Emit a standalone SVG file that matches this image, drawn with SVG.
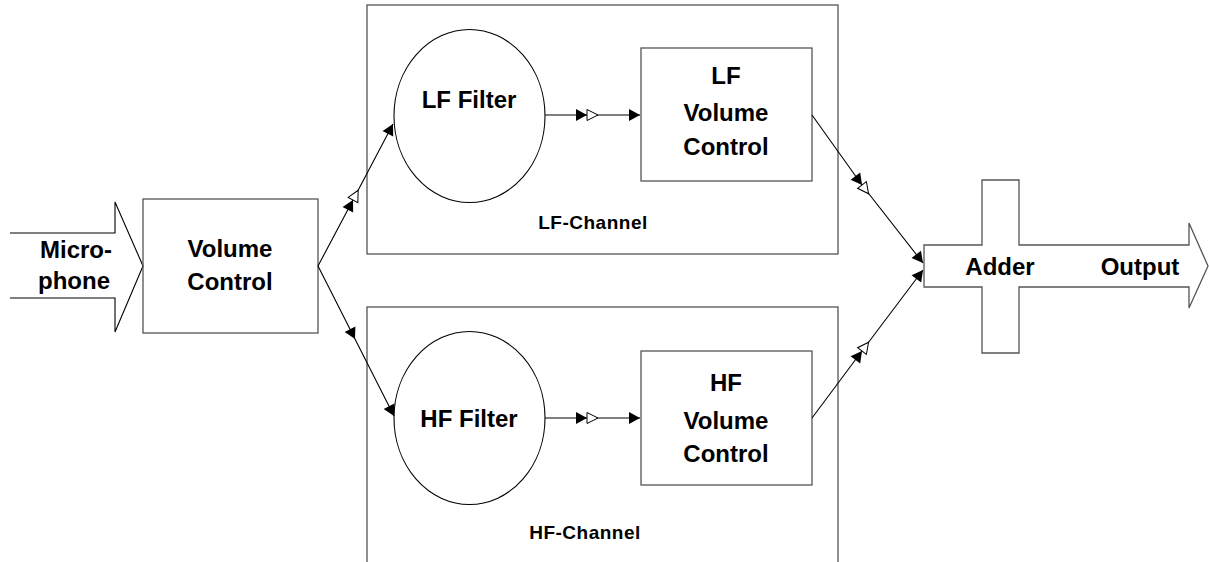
<svg xmlns="http://www.w3.org/2000/svg" width="1209" height="562" viewBox="0 0 1209 562">
<style>
.box{fill:none;stroke:#555;stroke-width:1.3}
.shape{fill:none;stroke:#000;stroke-width:1.1}
.t{font-family:"Liberation Sans",Arial,sans-serif;font-weight:bold;font-size:24px;fill:#000;text-anchor:middle}
.s{font-family:"Liberation Sans",Arial,sans-serif;font-weight:bold;font-size:19px;fill:#000;text-anchor:middle;letter-spacing:0.5px}
.c{fill:none;stroke:#000;stroke-width:1.1}
</style>
<defs>
<marker id="fa" markerUnits="userSpaceOnUse" markerWidth="14" markerHeight="14" viewBox="-12 -7 14 14" refX="0" refY="0" orient="auto" overflow="visible">
<path d="M0,0 L-11,-6 L-11,6 Z" fill="#000"/>
</marker>
<marker id="fo" markerUnits="userSpaceOnUse" markerWidth="26" markerHeight="14" viewBox="-12 -7 26 14" refX="0" refY="0" orient="auto" overflow="visible">
<path d="M0,0 L-11,-6 L-11,6 Z" fill="#000"/>
<path d="M11,0 L0,-5.5 L0,5.5 Z" fill="#fff" stroke="#000" stroke-width="1"/>
</marker>
</defs>
<g id="lf-channel">
<rect class="box" x="367" y="5" width="471" height="249"/>
<text class="s" x="593" y="229">LF-Channel</text>
</g>
<g id="hf-channel">
<rect class="box" x="367" y="307" width="471" height="270"/>
<text class="s" x="585" y="539">HF-Channel</text>
</g>
<g id="microphone">
<path class="shape" d="M10,233 H115 V202 L143,266 L115,332 V298 H10"/>
<text class="t" x="76" y="258">Micro-</text>
<text class="t" x="74" y="289">phone</text>
</g>
<g id="volume-control">
<rect class="box" x="143" y="199" width="175" height="134"/>
<text class="t" x="230" y="257">Volume</text>
<text class="t" x="230" y="290">Control</text>
</g>
<g id="lf-filter">
<ellipse class="shape" cx="469.5" cy="116" rx="75.5" ry="86.5"/>
<text class="t" x="469" y="108">LF Filter</text>
</g>
<g id="hf-filter">
<ellipse class="shape" cx="469.5" cy="418" rx="75.5" ry="86.5"/>
<text class="t" x="469" y="427">HF Filter</text>
</g>
<g id="lf-volume-control">
<rect class="box" x="641" y="48" width="171" height="133"/>
<text class="t" x="726" y="84">LF</text>
<text class="t" x="726" y="121">Volume</text>
<text class="t" x="726" y="155">Control</text>
</g>
<g id="hf-volume-control">
<rect class="box" x="641" y="351" width="171" height="134"/>
<text class="t" x="726" y="391">HF</text>
<text class="t" x="726" y="429">Volume</text>
<text class="t" x="726" y="462">Control</text>
</g>
<g id="adder">
<path class="box" d="M1075,245 H1019 V180 H982 V245 H924 V287 H982 V353 H1019 V287 H1075"/>
<text class="t" x="1000" y="275">Adder</text>
</g>
<g id="output">
<path class="box" d="M1075,245 H1189 V223 L1208,266 L1189,308 V287 H1075"/>
<text class="t" x="1140" y="275">Output</text>
</g>
<g id="connectors">
<polyline class="c" points="318,266 353,200 393,124" marker-mid="url(#fo)" marker-end="url(#fa)"/>
<polyline class="c" points="318,266 355,339 394,416" marker-mid="url(#fa)" marker-end="url(#fa)"/>
<polyline class="c" points="545,115 587,115 640,115" marker-mid="url(#fo)" marker-end="url(#fa)"/>
<polyline class="c" points="545,418 587,418 640,418" marker-mid="url(#fo)" marker-end="url(#fa)"/>
<polyline class="c" points="812,115 862,185 923,263" marker-mid="url(#fo)" marker-end="url(#fa)"/>
<polyline class="c" points="812,418 862,351 923,270" marker-mid="url(#fo)" marker-end="url(#fa)"/>
</g>
</svg>
